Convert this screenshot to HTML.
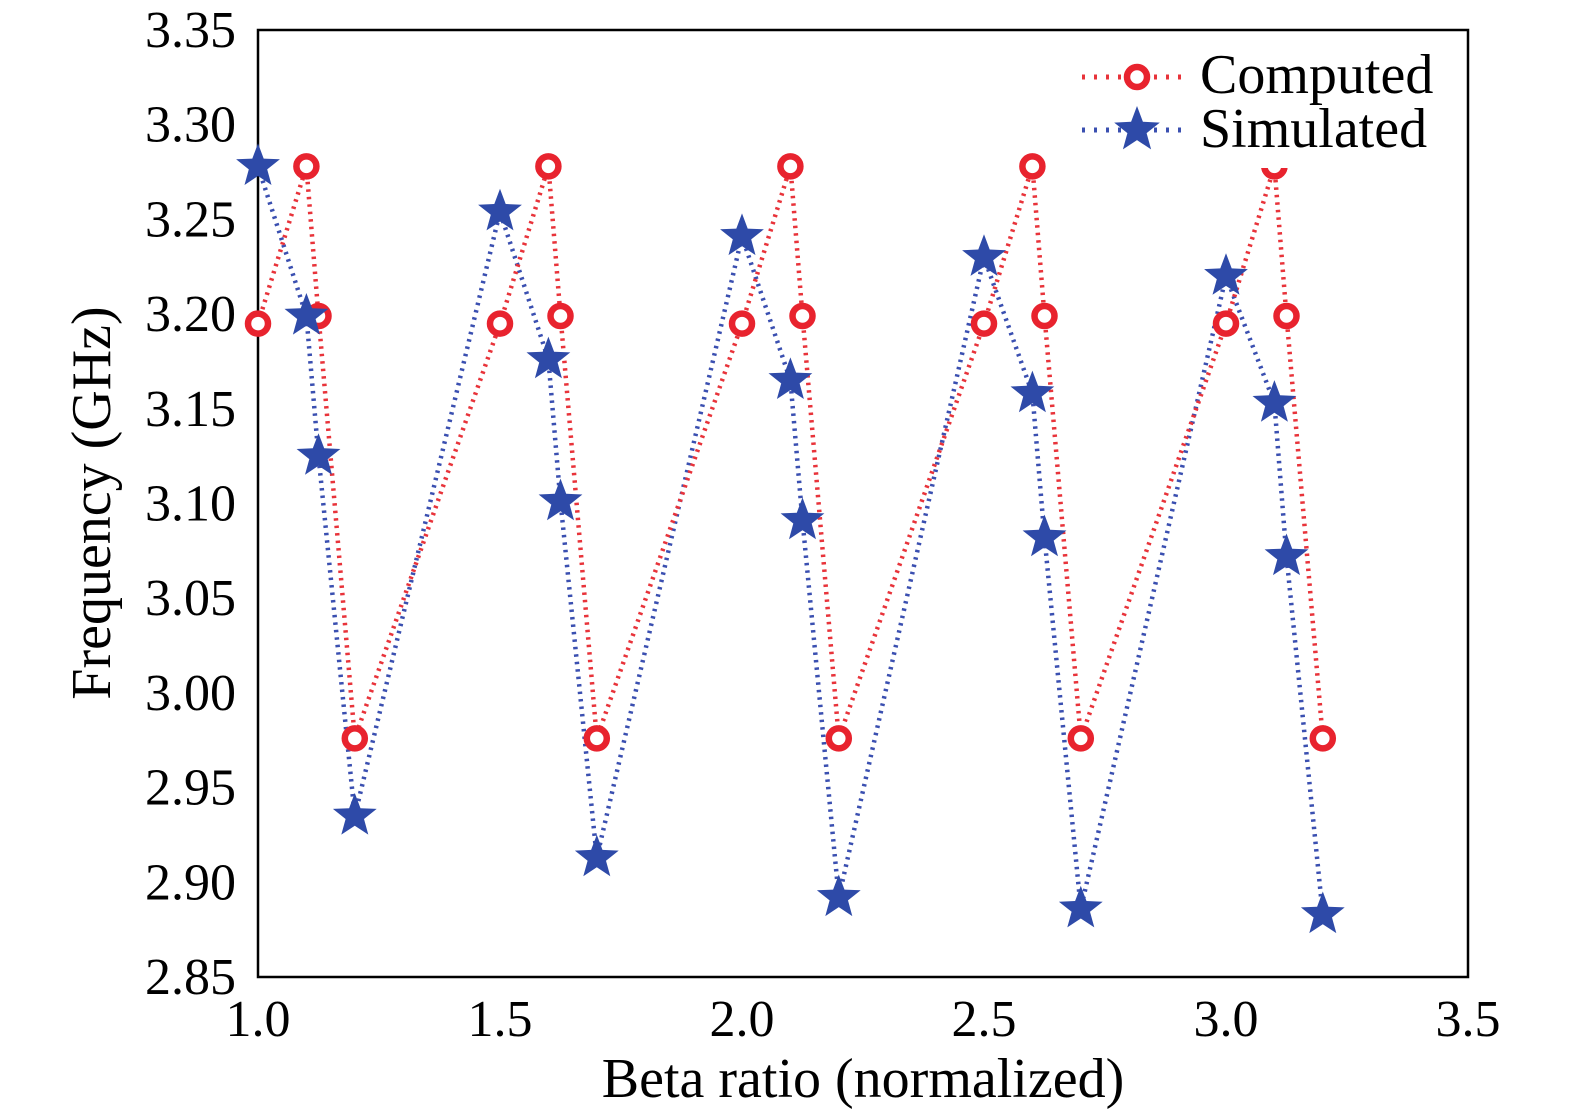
<!DOCTYPE html>
<html><head><meta charset="utf-8"><style>
html,body{margin:0;padding:0;background:#fff;}
svg{display:block;font-family:"Liberation Serif",serif;}
</style></head><body>
<svg id="chart" width="1575" height="1118" viewBox="0 0 1575 1118">
<g id="axes"></g><g id="series"></g><g id="legend"></g>
</svg>
<script>
const computedX=[1.0,1.1,1.125,1.2,1.5,1.6,1.625,1.7,2.0,2.1,2.125,2.2,2.5,2.6,2.625,2.7,3.0,3.1,3.125,3.2];
const computedY=[3.195,3.278,3.199,2.976,3.195,3.278,3.199,2.976,3.195,3.278,3.199,2.976,3.195,3.278,3.199,2.976,3.195,3.278,3.199,2.976];
const simulatedX=[1.0,1.1,1.125,1.2,1.5,1.6,1.625,1.7,2.0,2.1,2.125,2.2,2.5,2.6,2.625,2.7,3.0,3.1,3.125,3.2];
const simulatedY=[3.278,3.199,3.125,2.935,3.254,3.176,3.101,2.913,3.241,3.165,3.091,2.892,3.230,3.158,3.082,2.886,3.220,3.153,3.072,2.883];
const xTicks=["1.0","1.5","2.0","2.5","3.0","3.5"];
const yTicks=["2.85","2.90","2.95","3.00","3.05","3.10","3.15","3.20","3.25","3.30","3.35"];

const X0=258,X1=1468,Y0=977,Y1=30;
const sx=v=>X0+(v-1.0)/(3.5-1.0)*(X1-X0);
const sy=v=>Y0-(v-2.85)/(3.35-2.85)*(Y0-Y1);
const NS="http://www.w3.org/2000/svg";
function mk(tag,attrs,parent){const e=document.createElementNS(NS,tag);for(const k in attrs)e.setAttribute(k,attrs[k]);parent.appendChild(e);return e;}
const axes=document.getElementById('axes'),series=document.getElementById('series'),legend=document.getElementById('legend');

const frame=mk('rect',{x:X0,y:Y1,width:X1-X0,height:Y0-Y1,fill:'none',stroke:'#000','stroke-width':2.5},axes);


xTicks.forEach(t=>{
  const e=mk('text',{x:sx(+t),y:1036,'text-anchor':'middle','font-size':52,fill:'#000'},axes);e.textContent=t;
  
  
});
yTicks.forEach(t=>{
  const e=mk('text',{x:236,y:sy(+t)+17,'text-anchor':'end','font-size':52,fill:'#000'},axes);e.textContent=t;
  
  
});
const xt=mk('text',{x:863,y:1097,'text-anchor':'middle','font-size':56,fill:'#000'},axes);xt.textContent='Beta ratio (normalized)';


const yt=mk('text',{x:0,y:0,'text-anchor':'middle','font-size':56,fill:'#000',transform:'translate(110,503) rotate(-90)'},axes);yt.textContent='Frequency (GHz)';



function starPath(cx,cy,R){const r=R*0.42;let d='';for(let i=0;i<10;i++){const a=-Math.PI/2+i*Math.PI/5;const rr=i%2?r:R;d+=(i?'L':'M')+(cx+rr*Math.cos(a)).toFixed(1)+','+(cy+rr*Math.sin(a)).toFixed(1);}return d+'Z';}

const pb=simulatedX.map((x,i)=>sx(x)+','+sy(simulatedY[i])).join(' ');
const lb=mk('polyline',{points:pb,fill:'none',stroke:'#3a4fb0','stroke-width':4.5,'stroke-dasharray':'2.5 5'},series);


const pr=computedX.map((x,i)=>sx(x)+','+sy(computedY[i])).join(' ');
const lr=mk('polyline',{points:pr,fill:'none',stroke:'#e8333a','stroke-width':4.5,'stroke-dasharray':'2.5 5'},series);


computedX.forEach((x,i)=>{
  const c=mk('circle',{cx:sx(x),cy:sy(computedY[i]),r:10,fill:'#fff',stroke:'#e8232e','stroke-width':6.5},series);
  
  
});
simulatedX.forEach((x,i)=>{
  const s=mk('path',{d:starPath(sx(x),sy(simulatedY[i]),23),fill:'#2e4aa8'},series);
  
  
});

const lg=mk('rect',{x:1074,y:45,width:390,height:123,fill:'#fff'},legend);


const l1=mk('line',{x1:1082,y1:77,x2:1190,y2:77,stroke:'#e8333a','stroke-width':5,'stroke-dasharray':'3 9'},legend);


const c1=mk('circle',{cx:1137,cy:77,r:10,fill:'#fff',stroke:'#e8232e','stroke-width':6.5},legend);


const t1=mk('text',{x:1200,y:93,'font-size':56,fill:'#000'},legend);t1.textContent='Computed';


const l2=mk('line',{x1:1082,y1:130,x2:1190,y2:130,stroke:'#3a4fb0','stroke-width':5,'stroke-dasharray':'3 9'},legend);


const s2=mk('path',{d:starPath(1137,130,24),fill:'#2e4aa8'},legend);


const t2=mk('text',{x:1200,y:147,'font-size':56,fill:'#000'},legend);t2.textContent='Simulated';



const clip=mk('clipPath',{id:'below'},legend);mk('rect',{x:0,y:168,width:1575,height:1000},clip);
computedX.forEach((x,i)=>{
  if(sx(x)>1074 && sy(computedY[i])<180){
    const c=mk('circle',{cx:sx(x),cy:sy(computedY[i]),r:10,fill:'#fff',stroke:'#e8232e','stroke-width':6.5,'clip-path':'url(#below)'},legend);
    
    
  }
});
</script>
</body></html>
